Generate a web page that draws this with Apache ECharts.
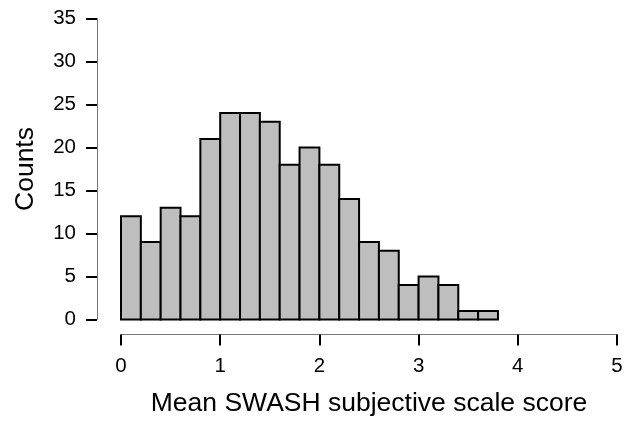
<!DOCTYPE html>
<html><head><meta charset="utf-8">
<script src="https://cdn.jsdelivr.net/npm/echarts@6/dist/echarts.min.js"></script>
<style>html,body{margin:0;padding:0;background:#fff}#c{width:627px;height:421px}</style>
</head><body><div id="c"></div>
<script>
const binStarts = [0,0.2,0.4,0.6,0.8,1.0,1.2,1.4,1.6,1.8,2.0,2.2,2.4,2.6,2.8,3.0,3.2,3.4,3.6];
const binWidth = 0.2;
const counts = [12,9,13,12,21,24,24,23,18,20,18,14,9,8,4,5,4,1,1];
const xTicks = [0,1,2,3,4,5];
const yTicks = [0,5,10,15,20,25,30,35];

const data = binStarts.map((s,i)=>[s, s+binWidth, counts[i]]);
const font = 'Liberation Sans, Arial, sans-serif';
const chart = echarts.init(document.getElementById('c'), null, {renderer:'canvas'});
chart.setOption({
  animation:false,
  backgroundColor:'#fff',
  grid:{left:121, right:10, top:18.5, bottom:101.5, containLabel:false, outerBoundsMode:'none'},
  xAxis:{
    type:'value', min:0, max:5, interval:1, offset:15,
    name:'Mean SWASH subjective scale score', nameLocation:'middle', nameGap:56,
    nameMoveOverlap:false,
    nameTextStyle:{fontFamily:font, fontSize:26.5, color:'#000'},
    axisLine:{show:true, onZero:false, lineStyle:{color:'#777', width:1}},
    axisTick:{show:true, length:11, lineStyle:{color:'#000', width:2}},
    axisLabel:{fontFamily:font, fontSize:20.5, color:'#000', margin:21,
      formatter:v=>xTicks.includes(v)?String(v):''},
    splitLine:{show:false}
  },
  yAxis:{
    type:'value', min:0, max:35, interval:5, offset:24,
    name:'Counts', nameLocation:'middle', nameGap:58,
    nameMoveOverlap:false,
    nameTextStyle:{fontFamily:font, fontSize:26.5, color:'#000'},
    axisLine:{show:true, onZero:false, lineStyle:{color:'#777', width:1}},
    axisTick:{show:true, length:11, lineStyle:{color:'#000', width:2}},
    axisLabel:{fontFamily:font, fontSize:20.5, color:'#000', margin:21,
      formatter:v=>yTicks.includes(v)?String(v):''},
    splitLine:{show:false}
  },
  series:[{
    type:'custom',
    data:data,
    encode:{x:[0,1], y:2},
    renderItem:function(params, api){
      const p0 = api.coord([api.value(0), 0]);
      const p1 = api.coord([api.value(1), api.value(2)]);
      return {
        type:'rect',
        shape:{x:p0[0], y:p1[1], width:p1[0]-p0[0], height:p0[1]-p1[1]},
        style:{fill:'#bebebe', stroke:'#000', lineWidth:2}
      };
    }
  }]
});
</script></body></html>
